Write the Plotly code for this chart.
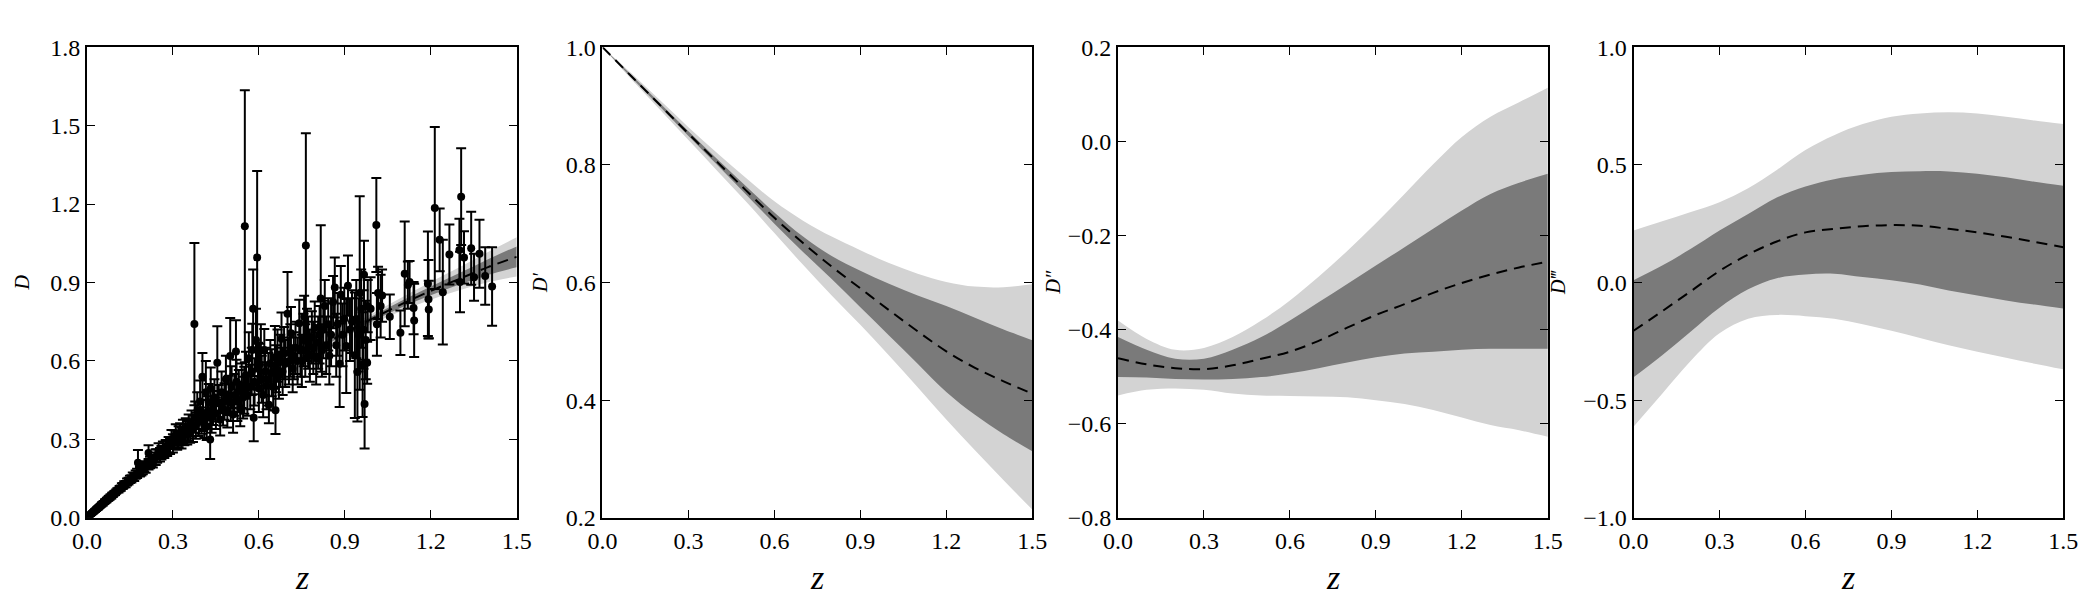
import plotly.graph_objects as go

# ---------------- data ----------------
z_grid = [0.0, 0.1, 0.2, 0.3, 0.4, 0.5, 0.6, 0.7, 0.8, 0.9, 1.0, 1.1, 1.2, 1.3, 1.4, 1.5]

# Panel 1: D(z) reconstruction
D_mean = [0.000, 0.098, 0.190, 0.278, 0.361, 0.439, 0.512, 0.581, 0.646, 0.707, 0.764, 0.818, 0.868, 0.914, 0.959, 0.998]
D_hi1 = [0.000, 0.099, 0.192, 0.280, 0.364, 0.442, 0.516, 0.586, 0.652, 0.715, 0.774, 0.831, 0.885, 0.936, 0.989, 1.038]
D_lo1 = [0.000, 0.097, 0.188, 0.276, 0.358, 0.436, 0.508, 0.576, 0.640, 0.699, 0.754, 0.805, 0.851, 0.892, 0.929, 0.958]
D_hi2 = [0.000, 0.100, 0.193, 0.282, 0.366, 0.445, 0.520, 0.591, 0.658, 0.723, 0.784, 0.844, 0.902, 0.958, 1.017, 1.073]
D_lo2 = [0.000, 0.096, 0.187, 0.274, 0.356, 0.433, 0.504, 0.571, 0.634, 0.691, 0.744, 0.792, 0.834, 0.870, 0.901, 0.923]

# Panel 2: D'(z)
Dp_mean = [1.000, 0.951, 0.902, 0.853, 0.805, 0.757, 0.710, 0.667, 0.627, 0.590, 0.553, 0.517, 0.483, 0.455, 0.432, 0.411]
Dp_hi1 = [1.000, 0.953, 0.905, 0.857, 0.810, 0.764, 0.719, 0.678, 0.645, 0.620, 0.598, 0.578, 0.560, 0.540, 0.520, 0.502]
Dp_lo1 = [1.000, 0.949, 0.899, 0.849, 0.800, 0.750, 0.700, 0.652, 0.606, 0.558, 0.510, 0.462, 0.414, 0.375, 0.342, 0.313]
Dp_hi2 = [1.000, 0.956, 0.910, 0.864, 0.820, 0.778, 0.738, 0.705, 0.678, 0.655, 0.633, 0.615, 0.601, 0.593, 0.592, 0.597]
Dp_lo2 = [1.000, 0.946, 0.894, 0.842, 0.790, 0.738, 0.684, 0.630, 0.578, 0.528, 0.476, 0.422, 0.367, 0.315, 0.264, 0.214]

# Panel 3: D''(z)
Dpp_mean = [-0.461, -0.474, -0.482, -0.484, -0.476, -0.462, -0.447, -0.424, -0.396, -0.369, -0.346, -0.322, -0.301, -0.283, -0.268, -0.256]
Dpp_hi1 = [-0.416, -0.443, -0.462, -0.462, -0.443, -0.416, -0.381, -0.342, -0.303, -0.264, -0.225, -0.186, -0.147, -0.112, -0.088, -0.069]
Dpp_lo1 = [-0.501, -0.502, -0.505, -0.506, -0.505, -0.501, -0.493, -0.482, -0.470, -0.459, -0.451, -0.447, -0.443, -0.441, -0.441, -0.441]
Dpp_hi2 = [-0.381, -0.420, -0.443, -0.439, -0.416, -0.381, -0.338, -0.288, -0.233, -0.174, -0.112, -0.049, 0.009, 0.052, 0.083, 0.114]
Dpp_lo2 = [-0.540, -0.528, -0.525, -0.528, -0.536, -0.540, -0.541, -0.542, -0.544, -0.550, -0.558, -0.571, -0.587, -0.603, -0.614, -0.628]

# Panel 4: D'''(z)
Dppp_mean = [-0.205, -0.122, -0.037, 0.049, 0.119, 0.174, 0.213, 0.228, 0.239, 0.244, 0.241, 0.228, 0.213, 0.194, 0.172, 0.150]
Dppp_hi1 = [0.010, 0.072, 0.143, 0.221, 0.291, 0.361, 0.408, 0.439, 0.458, 0.469, 0.473, 0.472, 0.462, 0.447, 0.428, 0.411]
Dppp_lo1 = [-0.403, -0.309, -0.208, -0.107, -0.029, 0.018, 0.034, 0.037, 0.023, 0.010, -0.009, -0.034, -0.055, -0.076, -0.094, -0.111]
Dppp_hi2 = [0.221, 0.260, 0.299, 0.341, 0.400, 0.478, 0.563, 0.626, 0.673, 0.704, 0.718, 0.723, 0.718, 0.704, 0.688, 0.673]
Dppp_lo2 = [-0.613, -0.473, -0.333, -0.216, -0.154, -0.138, -0.143, -0.154, -0.177, -0.205, -0.236, -0.267, -0.294, -0.320, -0.345, -0.369]

sn_z = [0.010, 0.012, 0.015, 0.016, 0.018, 0.020, 0.022, 0.023, 0.025, 0.026, 0.028, 0.030, 0.031, 0.033, 0.035,
        0.036, 0.038, 0.040, 0.042, 0.044, 0.046, 0.048, 0.050, 0.053, 0.055, 0.058, 0.060, 0.063, 0.065, 0.068,
        0.070, 0.073, 0.076, 0.079, 0.082, 0.085, 0.088, 0.091, 0.095, 0.098,
        0.102, 0.106, 0.110, 0.114, 0.118, 0.122, 0.126, 0.130, 0.135, 0.140, 0.145, 0.150, 0.155, 0.160, 0.165,
        0.170, 0.175, 0.178, 0.185, 0.190, 0.195, 0.200, 0.205, 0.215, 0.215, 0.220, 0.225, 0.230, 0.235, 0.240,
        0.245, 0.250, 0.255, 0.260, 0.265, 0.270, 0.275, 0.280, 0.285, 0.290, 0.295, 0.300,
        0.305, 0.310, 0.315, 0.320, 0.325, 0.330, 0.335, 0.340, 0.345, 0.350, 0.355, 0.360, 0.365, 0.370, 0.375,
        0.378, 0.380, 0.385, 0.390, 0.395, 0.400, 0.403, 0.405, 0.410, 0.415, 0.418, 0.420, 0.425, 0.430, 0.432,
        0.435, 0.440, 0.445, 0.450, 0.455, 0.460, 0.465, 0.470, 0.475, 0.480, 0.485, 0.490, 0.495, 0.500, 0.502,
        0.505, 0.510, 0.515, 0.520, 0.522, 0.525, 0.530, 0.535, 0.540, 0.545, 0.549, 0.551, 0.555, 0.560, 0.565,
        0.570, 0.575, 0.577, 0.580, 0.582, 0.585, 0.590, 0.594, 0.597,
        0.600, 0.603, 0.607, 0.610, 0.615, 0.619, 0.622, 0.627, 0.633, 0.635, 0.640, 0.645, 0.650, 0.656, 0.658,
        0.660, 0.665, 0.670, 0.675, 0.679, 0.683, 0.688, 0.692, 0.700, 0.705, 0.710, 0.712, 0.718, 0.722, 0.728,
        0.735, 0.741, 0.745, 0.750, 0.756, 0.758, 0.762, 0.764, 0.768, 0.772, 0.778, 0.785, 0.790, 0.795, 0.800,
        0.807, 0.812, 0.816, 0.820, 0.825, 0.830, 0.835, 0.842, 0.846, 0.852, 0.859, 0.865, 0.870, 0.875, 0.882,
        0.886, 0.892, 0.898,
        0.905, 0.911, 0.918, 0.925, 0.935, 0.940, 0.944, 0.948, 0.952, 0.957, 0.962, 0.965, 0.967, 0.969, 0.973,
        0.978, 0.980, 0.990,
        1.010, 1.012, 1.016, 1.025, 1.030, 1.057, 1.094, 1.109, 1.120, 1.126, 1.140, 1.142, 1.190, 1.192, 1.193,
        1.214, 1.231, 1.242, 1.265, 1.300, 1.302, 1.306, 1.316, 1.341, 1.351, 1.370, 1.390, 1.414]
sn_D = [0.0102, 0.0118, 0.0153, 0.0157, 0.0181, 0.0196, 0.0224, 0.0226, 0.0249, 0.0262, 0.0275, 0.0302, 0.0305, 0.0331, 0.0342,
        0.0361, 0.0372, 0.0405, 0.0412, 0.0440, 0.0451, 0.0483, 0.0489, 0.0532, 0.0536, 0.0584, 0.0587, 0.0628, 0.0645, 0.0662,
        0.0702, 0.0714, 0.0752, 0.0771, 0.0815, 0.0823, 0.0876, 0.0889, 0.0935, 0.0957,
        0.100, 0.105, 0.106, 0.112, 0.114, 0.121, 0.122, 0.128, 0.129, 0.137, 0.140, 0.147, 0.149, 0.158, 0.156,
        0.165, 0.170, 0.211, 0.176, 0.182, 0.187, 0.196, 0.192, 0.248, 0.205, 0.212, 0.218, 0.214, 0.226, 0.232,
        0.236, 0.255, 0.241, 0.249, 0.262, 0.257, 0.268, 0.266, 0.279, 0.274, 0.301, 0.285,
        0.300, 0.318, 0.295, 0.310, 0.322, 0.305, 0.330, 0.318, 0.336, 0.325, 0.345, 0.332, 0.360, 0.340, 0.741,
        0.385, 0.352, 0.410, 0.368, 0.445, 0.372, 0.540, 0.392, 0.355, 0.480, 0.348, 0.405, 0.442, 0.300, 0.495,
        0.385, 0.420, 0.460, 0.400, 0.593, 0.438, 0.375, 0.480, 0.418, 0.445, 0.530, 0.410, 0.468, 0.619, 0.440,
        0.500, 0.395, 0.470, 0.636, 0.520, 0.445, 0.485, 0.420, 0.505, 0.460, 0.488, 1.115, 0.545, 0.470, 0.610,
        0.500, 0.560, 0.642, 0.800, 0.383, 0.520, 0.680, 0.996, 0.580,
        0.495, 0.586, 0.640, 0.530, 0.470, 0.642, 0.560, 0.505, 0.530, 0.432, 0.590, 0.555, 0.500, 0.614, 0.411,
        0.570, 0.620, 0.545, 0.600, 0.685, 0.560, 0.630, 0.590, 0.780, 0.600, 0.640, 0.706, 0.570, 0.620, 0.650,
        0.600, 0.744, 0.640, 0.600, 0.680, 0.769, 0.640, 1.041, 0.700, 0.670, 0.620, 0.690, 0.650, 0.727, 0.610,
        0.670, 0.700, 0.839, 0.640, 0.720, 0.810, 0.660, 0.740, 0.620, 0.700, 0.825, 0.881, 0.660, 0.740, 0.589,
        0.853, 0.700, 0.760,
        0.657, 0.888, 0.720, 0.750, 0.622, 0.760, 0.558, 0.700, 0.860, 0.800, 0.586, 0.720, 0.930, 0.435, 0.680,
        0.593, 0.810, 0.800,
        1.120, 0.740, 0.860, 0.810, 0.850, 0.769, 0.708, 0.933, 0.890, 0.902, 0.802, 0.755, 0.895, 0.836, 0.797,
        1.185, 1.063, 0.863, 1.007, 1.024, 0.902, 1.228, 0.996, 1.031, 0.920, 1.010, 0.925, 0.885]
sn_err = [0.002, 0.002, 0.002, 0.002, 0.003, 0.003, 0.003, 0.003, 0.003, 0.003, 0.004, 0.004, 0.004, 0.004, 0.004,
          0.004, 0.005, 0.005, 0.005, 0.005, 0.005, 0.005, 0.006, 0.006, 0.006, 0.006, 0.006, 0.007, 0.007, 0.007,
          0.007, 0.007, 0.008, 0.008, 0.008, 0.008, 0.008, 0.008, 0.008, 0.008,
          0.008, 0.008, 0.009, 0.010, 0.010, 0.011, 0.011, 0.012, 0.012, 0.013, 0.013, 0.014, 0.014, 0.015, 0.015,
          0.016, 0.018, 0.048, 0.018, 0.020, 0.020, 0.020, 0.020, 0.030, 0.020, 0.022, 0.022, 0.022, 0.024, 0.030,
          0.025, 0.030, 0.026, 0.026, 0.030, 0.028, 0.030, 0.030, 0.030, 0.030, 0.035, 0.035,
          0.035, 0.040, 0.035, 0.040, 0.040, 0.040, 0.045, 0.040, 0.045, 0.045, 0.050, 0.045, 0.050, 0.050, 0.310,
          0.060, 0.050, 0.070, 0.055, 0.080, 0.050, 0.090, 0.060, 0.050, 0.120, 0.050, 0.060, 0.070, 0.075, 0.080,
          0.060, 0.065, 0.070, 0.060, 0.140, 0.070, 0.060, 0.080, 0.065, 0.070, 0.090, 0.065, 0.075, 0.145, 0.070,
          0.080, 0.070, 0.080, 0.120, 0.085, 0.075, 0.080, 0.070, 0.085, 0.080, 0.090, 0.520, 0.090, 0.080, 0.100,
          0.085, 0.090, 0.100, 0.150, 0.090, 0.090, 0.120, 0.330, 0.090,
          0.090, 0.080, 0.100, 0.090, 0.085, 0.080, 0.090, 0.090, 0.100, 0.070, 0.090, 0.090, 0.090, 0.120, 0.090,
          0.090, 0.100, 0.090, 0.100, 0.100, 0.090, 0.100, 0.090, 0.160, 0.090, 0.100, 0.100, 0.090, 0.090, 0.100,
          0.090, 0.090, 0.100, 0.100, 0.100, 0.080, 0.100, 0.430, 0.100, 0.100, 0.100, 0.100, 0.100, 0.100, 0.100,
          0.100, 0.110, 0.280, 0.100, 0.110, 0.100, 0.110, 0.100, 0.110, 0.120, 0.100, 0.115, 0.120, 0.120, 0.165,
          0.110, 0.120, 0.120,
          0.180, 0.115, 0.120, 0.120, 0.240, 0.150, 0.190, 0.140, 0.370, 0.150, 0.200, 0.150, 0.130, 0.170, 0.150,
          0.080, 0.100, 0.120,
          0.180, 0.120, 0.100, 0.120, 0.100, 0.085, 0.085, 0.200, 0.090, 0.080, 0.100, 0.140, 0.200, 0.150, 0.110,
          0.310, 0.120, 0.200, 0.115, 0.120, 0.116, 0.185, 0.100, 0.140, 0.090, 0.130, 0.110, 0.150]

# axis settings
y_ranges = [[0.0, 1.8], [0.2, 1.0], [-0.8, 0.2], [-1.0, 1.0]]
y_ticks = [[0.0, 0.3, 0.6, 0.9, 1.2, 1.5, 1.8],
           [0.2, 0.4, 0.6, 0.8, 1.0],
           [-0.8, -0.6, -0.4, -0.2, 0.0, 0.2],
           [-1.0, -0.5, 0.0, 0.5, 1.0]]
x_ticks = [0.0, 0.3, 0.6, 0.9, 1.2, 1.5]
y_titles = ["D", "D\u2032", "D\u2033", "D\u2034"]

# ---------------- figure ----------------
W, H = 2100, 600
LIGHT = "#d3d3d3"
DARK = "#7a7a7a"
FONT = "Liberation Serif"

panels = [
    (D_mean, D_lo1, D_hi1, D_lo2, D_hi2),
    (Dp_mean, Dp_lo1, Dp_hi1, Dp_lo2, Dp_hi2),
    (Dpp_mean, Dpp_lo1, Dpp_hi1, Dpp_lo2, Dpp_hi2),
    (Dppp_mean, Dppp_lo1, Dppp_hi1, Dppp_lo2, Dppp_hi2),
]

x_px = [(73, 509), (596, 1032), (1119, 1555), (1642, 2078)]
y_top, y_bot = 35.7, 527.7
ylab_px = [8, 533, 1054, 1566]

fig = go.Figure()

for i, (m, lo1, hi1, lo2, hi2) in enumerate(panels):
    xa = "x" if i == 0 else f"x{i+1}"
    ya = "y" if i == 0 else f"y{i+1}"
    common = dict(x=z_grid, xaxis=xa, yaxis=ya, mode="lines", showlegend=False,
                  hoverinfo="skip", line=dict(width=0, shape="spline"))
    fig.add_trace(go.Scatter(y=lo2, **common))
    fig.add_trace(go.Scatter(y=hi2, fill="tonexty", fillcolor=LIGHT, **common))
    fig.add_trace(go.Scatter(y=lo1, **common))
    fig.add_trace(go.Scatter(y=hi1, fill="tonexty", fillcolor=DARK, **common))
    fig.add_trace(go.Scatter(x=z_grid, y=m, xaxis=xa, yaxis=ya, mode="lines", showlegend=False,
                             line=dict(color="black", width=2, dash="11px,7px", shape="spline")))
    if i == 0:
        fig.add_trace(go.Scatter(
            x=sn_z, y=sn_D, xaxis="x", yaxis="y", mode="markers", showlegend=False,
            marker=dict(color="black", size=8),
            error_y=dict(type="data", array=sn_err, visible=True, color="black",
                         thickness=2, width=5)))

layout = dict(width=W, height=H, margin=dict(l=0, r=0, t=0, b=0),
              paper_bgcolor="white", plot_bgcolor="white", showlegend=False,
              font=dict(family=FONT, color="black", size=24))

axis_common = dict(showline=True, linecolor="black", linewidth=2, mirror="ticks",
                   ticks="inside", ticklen=8, tickwidth=1, tickcolor="black",
                   showgrid=False, zeroline=False, tickformat=".1f",
                   tickfont=dict(family=FONT, size=24, color="black"))

annotations = []
for i in range(4):
    xs = "" if i == 0 else str(i + 1)
    x0, x1 = x_px[i]
    layout[f"xaxis{xs}"] = dict(domain=[x0 / W, x1 / W], range=[0, 1.5], tickvals=x_ticks,
                                anchor=f"y{xs}", **axis_common)
    layout[f"yaxis{xs}"] = dict(domain=[1 - y_bot / H, 1 - y_top / H], range=y_ranges[i],
                                tickvals=y_ticks[i], anchor=f"x{xs}", **axis_common)
    annotations.append(dict(text="<i>z</i>", x=(x0 + x1) / 2 / W, y=1 - 590 / H,
                            xref="paper", yref="paper", showarrow=False,
                            xanchor="center", yanchor="middle",
                            font=dict(family=FONT, size=34, color="black")))
    annotations.append(dict(text=f"<i>{y_titles[i]}</i>", x=ylab_px[i] / W,
                            y=1 - (y_top + y_bot) / 2 / H, xref="paper", yref="paper",
                            showarrow=False, textangle=-90, xanchor="center", yanchor="middle",
                            font=dict(family=FONT, size=20, color="black")))
layout["annotations"] = annotations
fig.update_layout(**layout)

fig.write_html("out.html", config={"displayModeBar": False})
